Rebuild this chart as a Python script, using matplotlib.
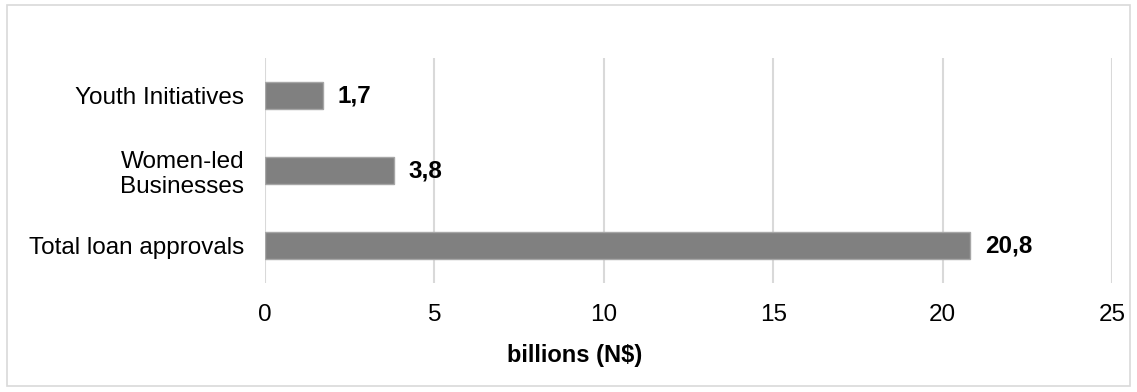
import matplotlib.pyplot as plt
from matplotlib.patches import Rectangle

# Data
categories = ['Total loan approvals', 'Women-led\nBusinesses', 'Youth Initiatives']
values = [20.8, 3.8, 1.7]
value_labels = ['20,8', '3,8', '1,7']
xticks = [0, 5, 10, 15, 20, 25]

plt.rcParams['font.family'] = ['Liberation Sans', 'DejaVu Sans']

fig = plt.figure(figsize=(11.37, 3.92), dpi=100)
ax = fig.add_axes([0.233, 0.278, 0.745, 0.574])

y = range(len(categories))
bars = ax.barh(y, values, height=0.35, color='#808080', edgecolor='#a6a6a6', linewidth=1, zorder=3)

for bar, lab in zip(bars, value_labels):
    ax.annotate(lab, (bar.get_width(), bar.get_y() + bar.get_height() / 2),
                xytext=(11, 0), textcoords='offset points', va='center', ha='left',
                fontsize=17.5, fontweight='bold', color='black')

ax.set_xlim(0, 25)
ax.set_ylim(-0.5, 2.5)
ax.set_xticks(xticks)
ax.set_xticklabels([str(t) for t in xticks])
ax.set_yticks(list(y))
ax.set_yticklabels(categories, linespacing=1.15)
ax.tick_params(axis='x', length=0, pad=15, labelsize=17.5)
ax.tick_params(axis='y', length=0, pad=15, labelsize=17.5)
ax.xaxis.grid(True, color='#d9d9d9', linewidth=1.5, zorder=0)
ax.set_axisbelow(True)
for s in ax.spines.values():
    s.set_visible(False)

fig.text(0.505, 0.092, 'billions (N$)', ha='center', va='center', fontsize=17, fontweight='bold')

# light border around the whole chart
fig.patches.append(Rectangle((0.006, 0.015), 0.988, 0.973, transform=fig.transFigure,
                             fill=False, edgecolor='#d9d9d9', linewidth=1.2))

fig.savefig('out.png', dpi=100)
